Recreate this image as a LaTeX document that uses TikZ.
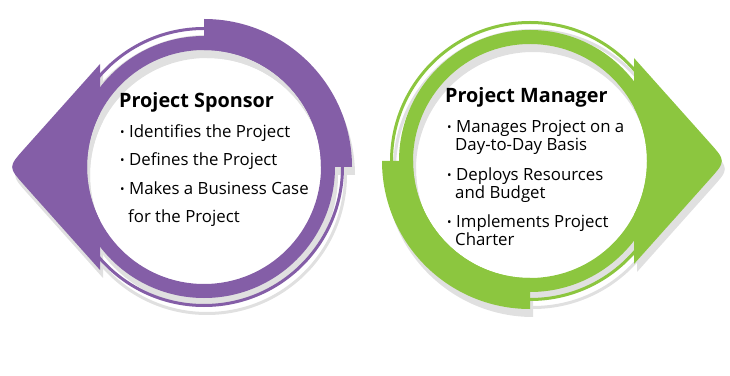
\documentclass[tikz,border=0pt]{standalone}
\usepackage{fontspec}
\setmainfont{Open Sans}
\usetikzlibrary{calc}
\definecolor{SponsorPurple}{HTML}{845EA7}
\definecolor{ManagerGreen}{HTML}{8CC63F}
\definecolor{ShadowGrey}{HTML}{E0E0E0}

% ring with thick block (top right) and arrow head (left), centre at origin
\newcommand{\cyclering}[1]{%
  \fill[#1, even odd rule] (0,0) circle (131) (0,0) circle (117);
  \draw[#1, line width=3] (0,0) circle (138.5);
  \fill[#1] (0:117) -- (0:148) arc[start angle=0, end angle=90, radius=148]
    -- (90:117) arc[start angle=90, end angle=0, radius=117] -- cycle;
  \coordinate (tip) at (-196,0);
  \fill[#1] (-104,103) -- ($(tip)!25pt!(-104,103)$) .. controls (tip) .. ($(tip)!25pt!(-104,-103)$)
    -- (-104,-103) -- (207.27:117) arc[start angle=207.27, end angle=152.73, radius=117] -- cycle;
}
\newcommand{\bul}{\makebox[9pt][l]{\raisebox{1pt}{\fontsize{12}{12}\selectfont •}}}

\begin{document}
\begin{tikzpicture}[
    x=1pt, y=1pt,
    ttl/.style={anchor=base west, inner sep=0pt, font=\fontsize{19.8}{22}\selectfont\bfseries},
    itm/.style={anchor=base west, inner sep=0pt, align=left, font=\fontsize{16.8}{18.5}\selectfont},
  ]
  \useasboundingbox (0,0) rectangle (730,375);

  % =================== Project Sponsor ===================
  \begin{scope}[shift={(204,208)}]
    \begin{scope}[xshift=3, yshift=-8]
      \cyclering{ShadowGrey}
    \end{scope}
    \cyclering{SponsorPurple}
  \end{scope}
  \node[ttl] (ps) at (119,267) {Project Sponsor};
  \node[itm] (ps1) at (120,237) {\bul Identifies the Project};
  \node[itm] (ps2) at (120,209) {\bul Defines the Project};
  % base anchor = last line
  \node[itm, font=\fontsize{16.8}{28.5}\selectfont] (ps3) at (120,152)
    {\bul Makes a Business Case\\\hspace*{8pt}for the Project};

  % =================== Project Manager ===================
  \begin{scope}[shift={(530,214)}]
    \begin{scope}[xshift=3, yshift=-8, rotate=180]
      \cyclering{ShadowGrey}
    \end{scope}
    \begin{scope}[rotate=180]
      \cyclering{ManagerGreen}
    \end{scope}
  \end{scope}
  \node[ttl] (pm) at (445,272) {Project Manager};
  \node[itm] (pm1) at (447,224) {\bul Manages Project on a\\\hspace*{8pt}Day-to-Day Basis};
  \node[itm] (pm2) at (447,176) {\bul Deploys Resources\\\hspace*{8pt}and Budget};
  \node[itm] (pm3) at (447,129) {\bul Implements Project\\\hspace*{8pt}Charter};
\end{tikzpicture}
\end{document}
